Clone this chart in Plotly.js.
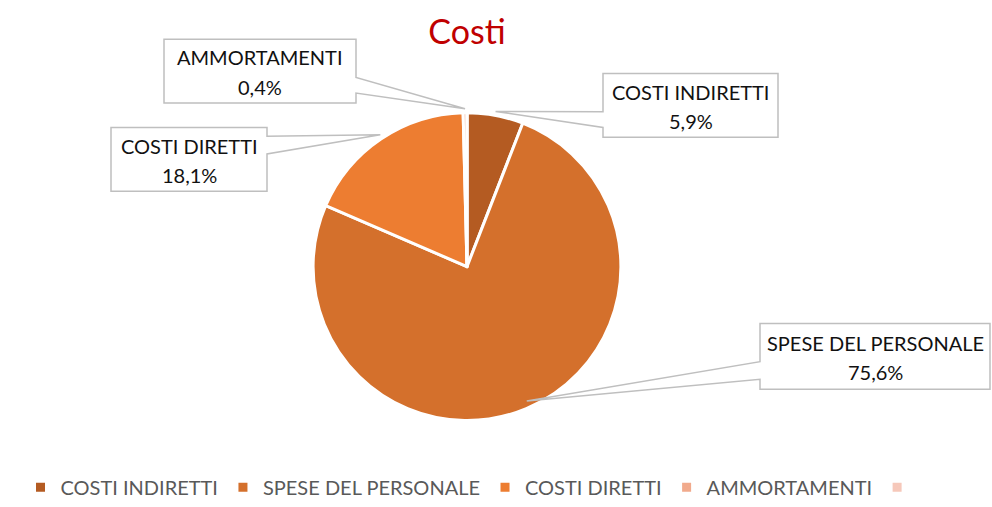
<!DOCTYPE html>
<html>
<head>
<meta charset="utf-8">
<script src="https://cdn.plot.ly/plotly-3.0.1.min.js"></script>
<style>
  html, body { margin: 0; padding: 0; background: #fff; }
  #chart { width: 992px; height: 507px; }
</style>
</head>
<body>
<div id="chart"></div>
<script>
/* ---- Data ---- */
const labels = ['COSTI INDIRETTI', 'SPESE DEL PERSONALE', 'COSTI DIRETTI', 'AMMORTAMENTI', ' '];
const values = [5.9, 75.6, 18.1, 0.4, 0];
const colors = ['#B45B22', '#D4702C', '#ED7D31', '#F1AA8C', '#F6C8BA'];
const pctText = ['5,9%', '75,6%', '18,1%', '0,4%'];

/* ---- Geometry (pixels) ---- */
const W = 992, H = 507;
const cx = 467, cy = 266, R = 153;
const FONT = 'Lato, "Open Sans", sans-serif';

// callout boxes: [x0, y0, x1, y1, side, notchTop, notchBottom]
const boxes = [
  [603, 75, 778, 140, 'left', 114, 130],
  [760, 330, 990, 397, 'left', 369, 387],
  [111, 130, 267, 195, 'right', 139, 157],
  [164, 40, 356, 105, 'right', 79, 95],
];

const px = x => x / W;
const py = y => 1 - y / H;

// slice mid angles -> callout tips
const total = values.reduce((a, b) => a + b, 0);
let cum = 0;
const tips = values.map(v => {
  const mid = (cum + v / 2) / total * 2 * Math.PI;
  cum += v;
  return [cx + (R + 2) * Math.sin(mid), cy - (R + 2) * Math.cos(mid)];
});

const shapes = [], annotations = [];
const txt = (x, y, s) => ({
  xref: 'paper', yref: 'paper', x: px(x), y: py(y),
  xanchor: 'center', yanchor: 'middle', showarrow: false, text: s,
  font: { family: FONT, size: 20, color: '#111111' },
});
boxes.forEach((b, i) => {
  const [x0, y0, x1, y1, side, n0, n1] = b;
  const [tx, ty] = tips[i];
  let d;
  if (side === 'left') {
    d = `M${px(x0)},${py(y0)} L${px(x1)},${py(y0)} L${px(x1)},${py(y1)} L${px(x0)},${py(y1)} ` +
        `L${px(x0)},${py(n1)} L${px(tx)},${py(ty)} L${px(x0)},${py(n0)} Z`;
  } else {
    d = `M${px(x0)},${py(y0)} L${px(x1)},${py(y0)} L${px(x1)},${py(n0)} L${px(tx)},${py(ty)} ` +
        `L${px(x1)},${py(n1)} L${px(x1)},${py(y1)} L${px(x0)},${py(y1)} Z`;
  }
  shapes.push({ type: 'path', xref: 'paper', yref: 'paper', path: d,
    fillcolor: '#ffffff', line: { color: '#BFBFBF', width: 1.5 } });
  const mx = (x0 + x1) / 2, my = (y0 + y1) / 2;
  annotations.push(txt(mx, my - 14, labels[i]));
  annotations.push(txt(mx, my + 16, pctText[i]));
});

const Rd = R + 4; // plotly trims the pie slightly inside its domain
const trace = {
  type: 'pie',
  labels, values, sort: false, direction: 'clockwise', rotation: 0,
  marker: { colors, line: { color: '#ffffff', width: 3 } },
  textinfo: 'none', hoverinfo: 'label+percent',
  domain: { x: [px(cx - Rd), px(cx + Rd)], y: [py(cy + 6 + Rd), py(cy + 6 - Rd)] },
};

const layout = {
  width: W, height: H,
  margin: { l: 0, r: 0, t: 0, b: 0 },
  paper_bgcolor: '#ffffff',
  font: { family: FONT },
  title: { text: 'Costi', x: px(467), xanchor: 'center', y: py(32), yanchor: 'middle',
    font: { family: FONT, size: 34, color: '#C00000' } },
  showlegend: true,
  legend: {
    orientation: 'h', x: px(474), xanchor: 'center', y: py(497), yanchor: 'middle',
    font: { family: FONT, size: 20, color: '#595959' },
    traceorder: 'normal', itemwidth: 30,
  },
  shapes, annotations,
};

Plotly.newPlot('chart', [trace], layout, { displayModeBar: false, staticPlot: true });
</script>
</body>
</html>
